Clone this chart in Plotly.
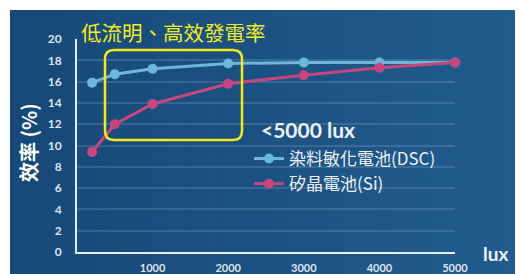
import plotly.graph_objects as go

lux = [200, 500, 1000, 2000, 3000, 4000, 5000]
dsc = [15.9, 16.7, 17.2, 17.7, 17.8, 17.8, 17.8]
si = [9.4, 12.0, 13.9, 15.8, 16.6, 17.3, 17.8]
y_ticks = [0, 2, 4, 6, 8, 10, 12, 14, 16, 18, 20]
x_ticks = [1000, 2000, 3000, 4000, 5000]
name_dsc = "染料敏化電池(DSC)"
name_si = "矽晶電池(Si)"

W, H = 523, 274
OFF = 8  # page body margin offset
SX0, SX1, SY0, SY1 = 77, 455, 39, 252
L = SX0 - OFF
R = W - (SX1 - OFF)
T = SY0 - OFF
B = H - (SY1 - OFF)
pw, ph = SX1 - SX0, SY1 - SY0

def X(p):
    return (p - SX0) / pw

def Y(p):
    return (SY1 - p) / ph

fig = go.Figure()
fig.add_trace(go.Scatter(x=lux, y=dsc, name=name_dsc, mode="lines+markers",
                         line=dict(color="#6cb8d8", width=3),
                         marker=dict(size=10, color="#6cb8d8"), cliponaxis=False))
fig.add_trace(go.Scatter(x=lux, y=si, name=name_si, mode="lines+markers",
                         line=dict(color="#c8467f", width=3),
                         marker=dict(size=10, color="#c8467f"), cliponaxis=False))

shapes = []
n = 30
c0 = (0x17, 0x49, 0x78)
c1 = (0x22, 0x5d, 0x8f)
x0p, x1p = 10, W + OFF + 5
for i in range(n):
    t = i / (n - 1)
    c = tuple(int(c0[k] + (c1[k] - c0[k]) * t) for k in range(3))
    a = x0p + (x1p - x0p) * i / n
    b = x0p + (x1p - x0p) * (i + 1) / n + 1
    shapes.append(dict(type="rect", xref="paper", yref="paper", layer="below",
                       x0=X(a), x1=X(b), y0=Y(H + OFF + 5), y1=Y(10),
                       line=dict(width=0), fillcolor="rgb(%d,%d,%d)" % c))

bx0, bx1, by0, by1, r = 105, 242, 50, 140, 9
path = (f"M {X(bx0+r)},{Y(by0)} L {X(bx1-r)},{Y(by0)} Q {X(bx1)},{Y(by0)} {X(bx1)},{Y(by0+r)} "
        f"L {X(bx1)},{Y(by1-r)} Q {X(bx1)},{Y(by1)} {X(bx1-r)},{Y(by1)} "
        f"L {X(bx0+r)},{Y(by1)} Q {X(bx0)},{Y(by1)} {X(bx0)},{Y(by1-r)} "
        f"L {X(bx0)},{Y(by0+r)} Q {X(bx0)},{Y(by0)} {X(bx0+r)},{Y(by0)} Z")
shapes.append(dict(type="path", xref="paper", yref="paper", path=path,
                   line=dict(color="#f2ea1c", width=2.5), fillcolor="rgba(0,0,0,0)"))

annotations = [
    dict(text="低流明、高效發電率", xref="paper", yref="paper", x=X(79), y=Y(32),
         xanchor="left", yanchor="middle", showarrow=False,
         font=dict(family="Noto Sans CJK TC", size=20.5, color="#f5ee1e")),
    dict(text="<b>效率 (%)</b>", xref="paper", yref="paper", x=X(28), y=Y(143),
         xanchor="center", yanchor="middle", showarrow=False, textangle=-90,
         font=dict(family="Noto Sans CJK TC", size=20, color="white")),
    dict(text="<b>lux</b>", xref="paper", yref="paper", x=X(495), y=Y(253),
         xanchor="center", yanchor="middle", showarrow=False,
         font=dict(family="Lato", size=19, color="#eef2f6")),
    dict(text="<b>&lt;5000 lux</b>", xref="paper", yref="paper", x=X(259), y=Y(130),
         xanchor="left", yanchor="middle", showarrow=False,
         font=dict(family="Lato", size=21, color="#eef2f6")),
]

fig.update_layout(
    width=W, height=H, margin=dict(l=L, r=R, t=T, b=B, autoexpand=False),
    paper_bgcolor="white", plot_bgcolor="rgba(0,0,0,0)",
    shapes=shapes, annotations=annotations,
    showlegend=True,
    legend=dict(x=X(249), y=Y(141), xanchor="left", yanchor="top",
                bgcolor="rgba(0,0,0,0)", itemwidth=30, tracegroupgap=0,
                font=dict(family="Noto Sans CJK TC", size=17, color="#eef2f6")),
    xaxis=dict(range=[0, 5000], tickvals=x_ticks, showgrid=False, zeroline=False,
               showline=True, linecolor="#e8eef4", linewidth=2, automargin=False,
               ticks="outside", ticklen=0, ticklabelstandoff=5,
               tickfont=dict(family="Lato", size=11, color="#dde4ec", weight="bold"),
               tickformat="d"),
    yaxis=dict(range=[0, 20], tickvals=y_ticks, showgrid=True, automargin=False,
               gridcolor="rgba(255,255,255,0.13)", gridwidth=1.5, zeroline=False,
               showline=True, linecolor="#e8eef4", linewidth=2,
               ticks="outside", ticklen=0, ticklabelstandoff=11,
               tickfont=dict(family="Lato", size=12, color="#dde4ec", weight="bold")),
)
fig.write_html("out.html")
